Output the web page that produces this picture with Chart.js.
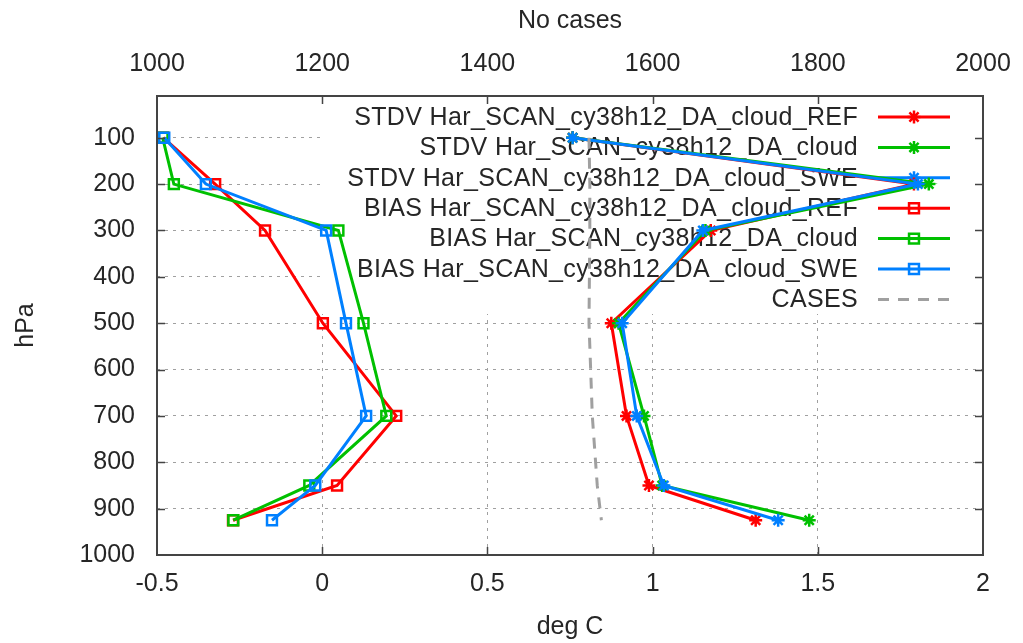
<!DOCTYPE html>
<html>
<head>
<meta charset="utf-8">
<script src="https://cdn.jsdelivr.net/npm/chart.js@4/dist/chart.umd.min.js"></script>
<style>
html,body{margin:0;padding:0;background:#fff;}
#wrap{width:1023px;height:643px;}
</style>
</head>
<body>
<div id="wrap"><canvas id="c" width="1023" height="643"></canvas></div>
<script>
// ---- data ----
const levels = [100, 200, 300, 500, 700, 850, 925];
const stdvRef   = [0.758, 1.791, 1.176, 0.875, 0.921, 0.989, 1.312];
const stdvCloud = [0.758, 1.836, 1.160, 0.897, 0.974, 1.029, 1.474];
const stdvSwe   = [0.758, 1.803, 1.152, 0.908, 0.952, 1.034, 1.380];
const biasRef   = [-0.481, -0.324, -0.173, 0.002, 0.224, 0.045, -0.270];
const biasCloud = [-0.483, -0.449, 0.049, 0.125, 0.194, -0.039, -0.269];
const biasSwe   = [-0.478, -0.352, 0.012, 0.072, 0.133, -0.021, -0.152];
const cases     = [1523, 1524, 1524, 1523, 1527, 1533, 1538];
const seriesLabels = [
  'STDV Har_SCAN_cy38h12_DA_cloud_REF',
  'STDV Har_SCAN_cy38h12_DA_cloud',
  'STDV Har_SCAN_cy38h12_DA_cloud_SWE',
  'BIAS Har_SCAN_cy38h12_DA_cloud_REF',
  'BIAS Har_SCAN_cy38h12_DA_cloud',
  'BIAS Har_SCAN_cy38h12_DA_cloud_SWE',
  'CASES'
];
const xTicks = [-0.5, 0, 0.5, 1, 1.5, 2];
const x2Ticks = [1000, 1200, 1400, 1600, 1800, 2000];
const yTicks = [100, 200, 300, 400, 500, 600, 700, 800, 900, 1000];

const RED = '#ff0000', GREEN = '#00c000', BLUE = '#0080ff', GREY = '#a0a0a0';
const FONT = "'Liberation Sans', Arial, sans-serif";
const FS = 25;
const TXT = '#262626';

function pts(vals) { return levels.map((p, i) => ({x: vals[i], y: p})); }

function ds(label, vals, color, style, order) {
  return {
    label, data: pts(vals), borderColor: color, backgroundColor: 'rgba(0,0,0,0)',
    borderWidth: 3, pointStyle: style, pointRadius: style === 'star' ? 6.5 : 7,
    pointBorderWidth: 2.5, pointBorderColor: color, pointBackgroundColor: 'rgba(0,0,0,0)',
    pointHoverRadius: 7, xAxisID: 'x', yAxisID: 'y', order, tension: 0
  };
}

const datasets = [
  ds(seriesLabels[0], stdvRef, RED, 'star', 7),
  ds(seriesLabels[1], stdvCloud, GREEN, 'star', 6),
  ds(seriesLabels[2], stdvSwe, BLUE, 'star', 5),
  ds(seriesLabels[3], biasRef, RED, 'rect', 4),
  ds(seriesLabels[4], biasCloud, GREEN, 'rect', 3),
  ds(seriesLabels[5], biasSwe, BLUE, 'rect', 2),
  {
    label: seriesLabels[6], data: pts(cases), borderColor: GREY, borderWidth: 3,
    borderDash: [11, 9], pointRadius: 0, xAxisID: 'x2', yAxisID: 'y', order: 1, tension: 0
  }
];

// gnuplot-like key drawn on an opaque box, under the data lines
const keyPlugin = {
  id: 'gkey',
  beforeDatasetsDraw(chart) {
    const ctx = chart.ctx, a = chart.chartArea;
    const boxLeft = chart.scales.x.getPixelForValue(0) - 2;
    const boxBottom = 313;
    ctx.save();
    ctx.fillStyle = '#fff';
    ctx.fillRect(boxLeft, a.top + 1, a.right - boxLeft - 1, boxBottom - a.top);
    ctx.font = FS + 'px ' + FONT;
    ctx.textAlign = 'right';
    ctx.textBaseline = 'middle';
    try { ctx.letterSpacing = '0.35px'; } catch (e) {}
    const textRight = 858, sx0 = 878, sx1 = 950, y0 = 117, dy = 30.4;
    chart.data.datasets.forEach((d, i) => {
      const y = y0 + i * dy;
      ctx.fillStyle = TXT;
      ctx.fillText(d.label, textRight, y + 1);
      ctx.save();
      ctx.strokeStyle = d.borderColor;
      ctx.lineWidth = 3;
      if (d.borderDash) ctx.setLineDash(d.borderDash);
      ctx.beginPath(); ctx.moveTo(sx0, y); ctx.lineTo(sx1, y); ctx.stroke();
      ctx.setLineDash([]);
      if (d.pointRadius) {
        ctx.strokeStyle = d.pointBorderColor;
        ctx.fillStyle = 'rgba(0,0,0,0)';
        ctx.lineWidth = d.pointBorderWidth;
        Chart.helpers.drawPoint(ctx, {pointStyle: d.pointStyle, radius: d.pointRadius, rotation: 0, borderWidth: d.pointBorderWidth}, (sx0 + sx1) / 2, y);
      }
      ctx.restore();
    });
    try { ctx.letterSpacing = '0px'; } catch (e) {}
    ctx.restore();
  },
  afterDatasetsDraw(chart) {
    const ctx = chart.ctx, a = chart.chartArea;
    const sx = chart.scales.x, sy = chart.scales.y;
    ctx.save();
    ctx.strokeStyle = '#444';
    ctx.lineWidth = 1.5;
    const tl = 8;
    ctx.beginPath();
    xTicks.forEach(v => {
      if (v <= -0.5 || v >= 2) return;
      const px = Math.round(sx.getPixelForValue(v)) + 0.5;
      ctx.moveTo(px, a.bottom); ctx.lineTo(px, a.bottom - tl);
      ctx.moveTo(px, a.top); ctx.lineTo(px, a.top + tl);
    });
    yTicks.forEach(v => {
      if (v >= 1000) return;
      const py = Math.round(sy.getPixelForValue(v)) + 0.5;
      ctx.moveTo(a.left, py); ctx.lineTo(a.left + tl, py);
      ctx.moveTo(a.right, py); ctx.lineTo(a.right - tl, py);
    });
    ctx.stroke();
    ctx.lineWidth = 2;
    ctx.strokeRect(a.left, a.top, a.right - a.left, a.bottom - a.top);
    ctx.restore();
  }
};

const fitX = h => s => { s.height = h; s.paddingLeft = 0; s.paddingRight = 0; };

new Chart(document.getElementById('c'), {
  type: 'line',
  data: { datasets },
  plugins: [keyPlugin],
  options: {
    responsive: false,
    animation: false,
    devicePixelRatio: 1,
    layout: { padding: { left: 0, right: 40, top: 0, bottom: 0 } },
    plugins: { legend: { display: false }, tooltip: { enabled: false } },
    scales: {
      x: {
        type: 'linear', position: 'bottom', min: -0.5, max: 2,
        afterBuildTicks: s => { s.ticks = xTicks.map(v => ({value: v})); },
        afterFit: fitX(88),
        ticks: { color: TXT, font: { family: FONT, size: FS }, padding: 14, maxRotation: 0,
                 callback: v => String(v) },
        grid: { color: c => (c.tick && (c.tick.value <= -0.5 || c.tick.value >= 2)) ? 'rgba(0,0,0,0)' : GREY,
                lineWidth: 1, drawTicks: false },
        border: { display: false, dash: [3, 5] },
        title: { display: true, text: 'deg C', color: TXT, font: { family: FONT, size: FS }, padding: { top: 0, bottom: 1 } }
      },
      x2: {
        type: 'linear', position: 'top', min: 1000, max: 2000,
        afterBuildTicks: s => { s.ticks = x2Ticks.map(v => ({value: v})); },
        afterFit: fitX(96),
        ticks: { color: TXT, font: { family: FONT, size: FS }, padding: 17, maxRotation: 0,
                 callback: v => String(v) },
        grid: { display: false, drawTicks: false },
        border: { display: false },
        title: { display: true, text: 'No cases', color: TXT, font: { family: FONT, size: FS }, padding: { top: 6, bottom: 0 } }
      },
      y: {
        type: 'linear', position: 'left', reverse: true, min: 10, max: 1000,
        afterBuildTicks: s => { s.ticks = yTicks.map(v => ({value: v})); },
        afterFit: s => { s.width = 157; s.paddingTop = 0; s.paddingBottom = 0; },
        ticks: { color: TXT, font: { family: FONT, size: FS }, padding: 22,
                 callback: v => String(v) },
        grid: { color: c => (c.tick && c.tick.value >= 1000) ? 'rgba(0,0,0,0)' : GREY,
                lineWidth: 1, drawTicks: false },
        border: { display: false, dash: [3, 5] },
        title: { display: true, text: 'hPa', color: TXT, font: { family: FONT, size: FS }, padding: { top: 11, bottom: 0 } }
      }
    }
  }
});
</script>
</body>
</html>
